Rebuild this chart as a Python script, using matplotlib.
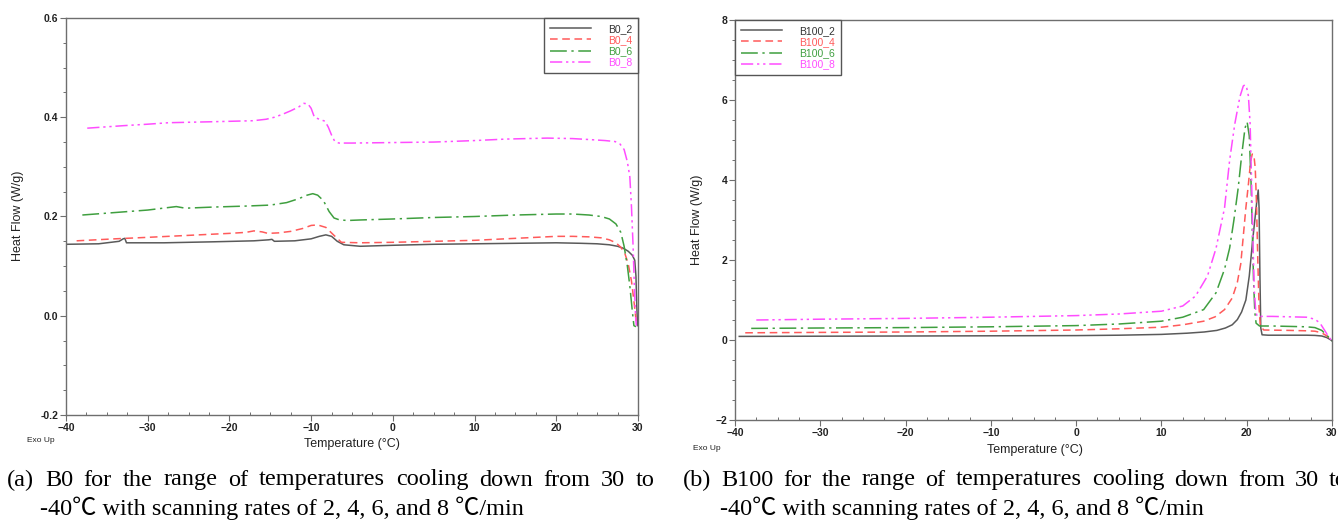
import matplotlib
matplotlib.use("Agg")
import matplotlib.pyplot as plt
from matplotlib.ticker import MultipleLocator

# ---- B0 cooling curves (Temperature degC, Heat flow W/g) ----
b0_2_t = [-40, -36, -33.5, -33.0, -32.8, -32.6, -28, -22, -17, -15.2, -14.8, -14.5, -12, -10, -9,
          -8.2, -7.5, -6.8, -6, -4, -2, 0, 5, 10, 15, 20, 23, 25, 26.5, 27.5, 28.2, 28.8, 29.3,
          29.6, 29.75, 29.85, 29.95]
b0_2_v = [0.144, 0.145, 0.150, 0.155, 0.156, 0.147, 0.147, 0.149, 0.151, 0.153, 0.154, 0.150, 0.151,
          0.155, 0.160, 0.163, 0.160, 0.150, 0.143, 0.140, 0.141, 0.142, 0.144, 0.145, 0.146, 0.147,
          0.146, 0.145, 0.143, 0.140, 0.136, 0.130, 0.122, 0.112, 0.08, 0.02, -0.02]

b0_4_t = [-38.7, -34, -30, -25, -20, -18, -17, -16, -15.3, -14, -12.5, -11, -10, -9.2, -8.2, -7.2,
          -6.3, -4, 0, 5, 10, 15, 20, 22, 24, 25.5, 26.5, 27.3, 27.9, 28.4, 28.8, 29.2, 29.5, 29.7,
          29.85]
b0_4_v = [0.151, 0.155, 0.158, 0.162, 0.166, 0.168, 0.171, 0.169, 0.166, 0.167, 0.170, 0.176, 0.182,
          0.183, 0.178, 0.162, 0.148, 0.147, 0.148, 0.150, 0.152, 0.156, 0.160, 0.160, 0.159, 0.157,
          0.153, 0.147, 0.138, 0.125, 0.105, 0.07, 0.03, 0.0, -0.02]

b0_6_t = [-38.0, -34, -30, -27.5, -26.5, -25.5, -25, -22, -18, -15, -13, -11.5, -10.5, -9.8, -9.2,
          -8.5, -7.8, -7.2, -6.5, -5.5, -4, 0, 5, 10, 15, 20, 22, 24, 25.5, 26.5, 27.3, 27.9, 28.3,
          28.7, 29.0, 29.3, 29.5, 29.75]
b0_6_v = [0.203, 0.208, 0.213, 0.218, 0.220, 0.217, 0.217, 0.219, 0.221, 0.223, 0.228, 0.236, 0.243,
          0.246, 0.243, 0.232, 0.210, 0.197, 0.193, 0.192, 0.193, 0.195, 0.198, 0.200, 0.203, 0.205,
          0.205, 0.203, 0.200, 0.195, 0.185, 0.168, 0.14, 0.10, 0.06, 0.01, -0.02, -0.022]

b0_8_t = [-37.4, -33, -30, -27.4, -22, -17.1, -15.5, -14.5, -13.5, -12.5, -11.5, -10.9, -10.4, -10.0,
          -9.6, -9.0, -8.3, -7.9, -7.5, -7.1, -6.6, -5, 0, 5, 10, 13.8, 18.9, 22, 24.1, 26, 27.2,
          27.8, 28.3, 28.7, 29.0, 29.2, 29.4, 29.55, 29.7, 29.8]
b0_8_v = [0.378, 0.383, 0.386, 0.389, 0.391, 0.393, 0.396, 0.400, 0.406, 0.413, 0.421, 0.428, 0.427,
          0.418, 0.400, 0.396, 0.392, 0.380, 0.364, 0.351, 0.348, 0.348, 0.349, 0.350, 0.353, 0.356,
          0.358, 0.357, 0.355, 0.353, 0.351, 0.346, 0.335, 0.31, 0.28, 0.22, 0.14, 0.06, 0.0, -0.02]

# ---- B100 cooling curves ----
b100_2_t = [-39.5, -30, -20, -10, 0, 5, 10, 13, 15, 16.5, 17.5, 18.3, 18.9, 19.4, 19.9, 20.3, 20.7,
            21.0, 21.2, 21.35, 21.45, 21.55, 21.65, 21.8, 22.5, 25, 27, 28, 28.8, 29.4, 29.8, 30]
b100_2_v = [0.09, 0.095, 0.10, 0.105, 0.11, 0.12, 0.14, 0.17, 0.20, 0.24, 0.30, 0.38, 0.51, 0.70, 1.0,
            1.6, 2.5, 3.1, 3.5, 3.75, 3.3, 1.6, 0.3, 0.13, 0.12, 0.12, 0.12, 0.115, 0.10, 0.06, 0.01,
            -0.02]

b100_4_t = [-38.8, -30, -20, -10, 0, 5, 10, 12.5, 14.95, 16.3, 17.4, 18.3, 18.9, 19.3, 19.6, 19.9,
            20.2, 20.45, 20.65, 20.85, 21.0, 21.15, 21.3, 21.45, 21.6, 22, 25, 27, 28, 28.8, 29.4,
            29.8, 30]
b100_4_v = [0.18, 0.19, 0.20, 0.22, 0.25, 0.28, 0.32, 0.38, 0.47, 0.58, 0.76, 1.05, 1.44, 1.9, 2.6,
            3.3, 3.9, 4.45, 4.65, 4.6, 4.3, 3.4, 2.0, 0.8, 0.35, 0.25, 0.24, 0.23, 0.22, 0.18, 0.10,
            0.02, -0.02]

b100_6_t = [-38.1, -30, -20, -10, 0, 5, 10, 12.5, 14.95, 16.4, 17.4, 18.0, 18.5, 19.0, 19.4, 19.8,
            20.05, 20.3, 20.5, 20.65, 20.8, 20.95, 21.1, 21.5, 23, 25, 27, 28, 28.8, 29.4, 29.8, 30]
b100_6_v = [0.29, 0.30, 0.31, 0.33, 0.36, 0.40, 0.47, 0.57, 0.76, 1.18, 1.77, 2.3, 3.0, 3.8, 4.6, 5.3,
            5.45, 5.1, 4.0, 2.8, 1.5, 0.7, 0.42, 0.35, 0.35, 0.34, 0.33, 0.31, 0.24, 0.12, 0.02, -0.03]

b100_8_t = [-37.5, -30, -20, -10, 0, 5, 10, 12.5, 14.0, 15.4, 16.4, 17.4, 18.0, 18.6, 19.2, 19.6,
            19.8, 20.0, 20.2, 20.4, 20.6, 20.75, 20.9, 21.05, 21.2, 21.5, 23, 25, 27, 28, 28.6, 29.2,
            29.6, 30]
b100_8_v = [0.50, 0.52, 0.54, 0.57, 0.61, 0.65, 0.72, 0.85, 1.1, 1.6, 2.29, 3.3, 4.5, 5.4, 6.08, 6.35,
            6.38, 6.3, 6.1, 5.4, 3.7, 2.3, 1.2, 0.75, 0.6, 0.59, 0.59, 0.58, 0.57, 0.52, 0.42, 0.22,
            0.08, -0.02]

rates = ["2", "4", "6", "8"]
caption_a = ["(a) B0 for the range of temperatures cooling down  from 30 to",
             "-40\u2103 with scanning rates of 2, 4, 6, and 8 \u2103/min"]
caption_b = ["(b) B100 for the range of temperatures cooling down from 30 to",
             "-40\u2103 with scanning rates of 2, 4, 6, and 8 \u2103/min"]

colors = ["#5a5a5a", "#ff5a5a", "#3f9f3f", "#ff4cff"]
styles = ["-", (0, (5, 3)), (0, (11, 3, 1.5, 3)), (0, (8, 2.5, 1.5, 2.5, 1.5, 2.5))]

plt.rcParams["font.family"] = ["Liberation Sans", "DejaVu Sans"]

fig = plt.figure(figsize=(13.38, 5.22), dpi=100)
W, H = 1338, 522


def px_axes(x0, x1, y0, y1):
    return fig.add_axes([x0 / W, 1 - y1 / H, (x1 - x0) / W, (y1 - y0) / H])


def style_axes(ax, ylim, ymaj, ymin):
    ax.set_xlim(-40, 30)
    ax.set_ylim(*ylim)
    ax.xaxis.set_major_locator(MultipleLocator(10))
    ax.xaxis.set_minor_locator(MultipleLocator(2.5))
    ax.yaxis.set_major_locator(MultipleLocator(ymaj))
    ax.yaxis.set_minor_locator(MultipleLocator(ymin))
    for s in ax.spines.values():
        s.set_color("#6e6e6e")
        s.set_linewidth(1.0)
    ax.tick_params(which="major", direction="out", length=4, width=0.8, color="#6e6e6e",
                   labelsize=7.5, pad=1.5)
    ax.tick_params(axis="y", which="minor", direction="out", length=2, width=0.7, color="#6e6e6e")
    ax.tick_params(axis="x", which="minor", direction="in", length=2, width=0.7, color="#6e6e6e")
    for lab in ax.get_xticklabels() + ax.get_yticklabels():
        lab.set_fontweight("bold")
        lab.set_color("#222222")


def draw_panel(ax, series, prefix, loc):
    for (t, v), c, ls, r in zip(series, colors, styles, rates):
        ax.plot(t, v, color=c, linestyle=ls, linewidth=1.1, label=f"{prefix}_{r}")
    leg = ax.legend(loc=loc, fontsize=7.5, handlelength=4.0, handletextpad=1.6,
                    borderaxespad=0, fancybox=False, framealpha=1,
                    labelspacing=0.12, borderpad=0.55)
    leg.get_frame().set_edgecolor("#555555")
    leg.get_frame().set_linewidth(1.0)
    for txt, c in zip(leg.get_texts(), colors):
        txt.set_color(c if c != "#5a5a5a" else "#333333")


# left panel: B0
ax1 = px_axes(66, 638, 18, 415)
draw_panel(ax1, [(b0_2_t, b0_2_v), (b0_4_t, b0_4_v), (b0_6_t, b0_6_v), (b0_8_t, b0_8_v)],
           "B0", "upper right")
style_axes(ax1, (-0.2, 0.6), 0.2, 0.05)
ax1.yaxis.set_major_formatter(plt.FormatStrFormatter("%.1f"))
for lab in ax1.get_yticklabels():
    lab.set_fontweight("bold")

# right panel: B100
ax2 = px_axes(735, 1332, 20, 420)
draw_panel(ax2, [(b100_2_t, b100_2_v), (b100_4_t, b100_4_v), (b100_6_t, b100_6_v),
                 (b100_8_t, b100_8_v)], "B100", "upper left")
style_axes(ax2, (-2, 8), 2, 0.5)

# axis titles
fig.text(18 / W, 1 - 216 / H, "Heat Flow (W/g)", rotation=90, ha="center", va="center",
         fontsize=9, color="#222222")
fig.text(697 / W, 1 - 220 / H, "Heat Flow (W/g)", rotation=90, ha="center", va="center",
         fontsize=9, color="#222222")
fig.text(352 / W, 1 - 444 / H, "Temperature (\u00b0C)", ha="center", va="center",
         fontsize=9, color="#222222")
fig.text(1035 / W, 1 - 450 / H, "Temperature (\u00b0C)", ha="center", va="center",
         fontsize=9, color="#222222")
fig.text(27 / W, 1 - 441 / H, "Exo Up", ha="left", va="center", fontsize=6, color="#222222")
fig.text(693 / W, 1 - 448 / H, "Exo Up", ha="left", va="center", fontsize=6, color="#222222")

# captions (Times-like serif, first line justified; CJK font supplies the degree-Celsius sign)
serif = ["Liberation Serif", "Noto Sans CJK SC", "DejaVu Serif"]
cap_size = 17.5
renderer = fig.canvas.get_renderer()


def justified(text, x0, x1, yc):
    words = text.split()
    arts = [fig.text(0, 1 - yc / H, w, fontsize=cap_size, family=serif, va="center", ha="left")
            for w in words]
    widths = [a.get_window_extent(renderer).width for a in arts]
    gap = (x1 - x0 - sum(widths)) / (len(words) - 1)
    x = x0
    for a, w in zip(arts, widths):
        a.set_x(x / W)
        x += w + gap


justified(caption_a[0], 7, 655, 480)
fig.text(40 / W, 1 - 508 / H, caption_a[1], fontsize=cap_size, family=serif, va="center")
justified(caption_b[0], 683, 1348, 480)
fig.text(720 / W, 1 - 508 / H, caption_b[1], fontsize=cap_size, family=serif, va="center")

fig.savefig("out.png", dpi=100)
